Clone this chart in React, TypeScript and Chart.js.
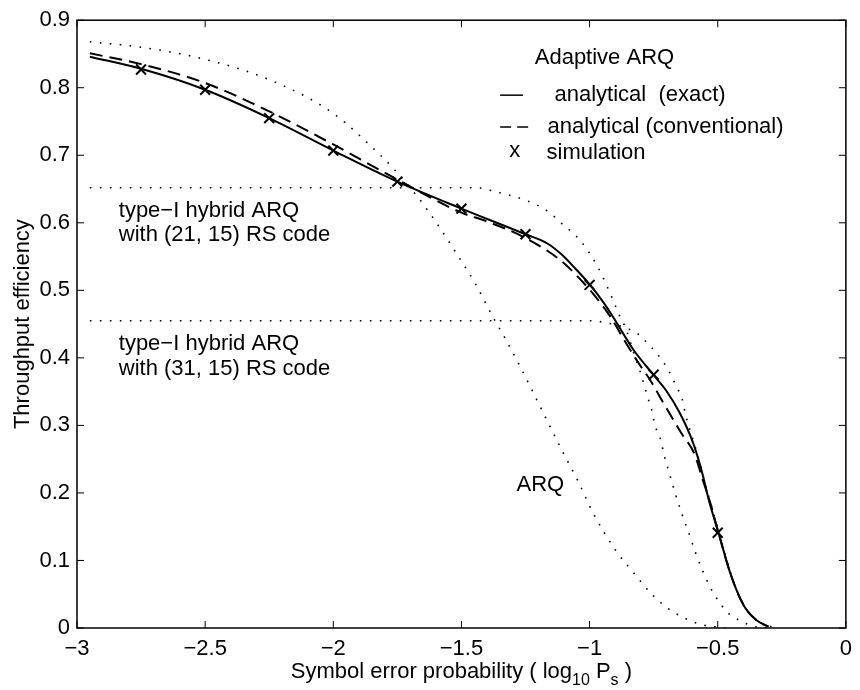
import React, { useEffect, useRef } from 'react';
import { Chart, registerables } from 'chart.js';

Chart.register(...registerables);

const FONT = '"Liberation Sans", Arial, Helvetica, sans-serif';

// axis ticks
const xTicks = [-3, -2.5, -2, -1.5, -1, -0.5, 0];
const yTicks = [0, 0.1, 0.2, 0.3, 0.4, 0.5, 0.6, 0.7, 0.8, 0.9];

// Adaptive ARQ, analytical (exact) - solid
const exactX = [-2.95, -2.75, -2.5, -2.25, -2.0, -1.75, -1.5, -1.25, -1.163, -1.112, -1.06, -0.998, -0.944, -0.906, -0.829, -0.749, -0.70, -0.649, -0.597, -0.565, -0.533, -0.497, -0.45, -0.398, -0.347, -0.302];
const exactY = [0.846, 0.828, 0.797, 0.755, 0.707, 0.661, 0.621, 0.583, 0.569, 0.554, 0.534, 0.508, 0.481, 0.459, 0.412, 0.374, 0.351, 0.319, 0.275, 0.236, 0.187, 0.141, 0.080, 0.033, 0.011, 0.002];

// Adaptive ARQ, analytical (conventional) - dashed
const convX = [-2.95, -2.75, -2.5, -2.25, -2.0, -1.75, -1.5, -1.407, -1.253, -1.112, -1.009, -0.963, -0.919, -0.861, -0.81, -0.765, -0.713, -0.643, -0.591, -0.559, -0.528, -0.5, -0.45, -0.398, -0.347, -0.302];
const convY = [0.851, 0.835, 0.807, 0.765, 0.716, 0.664, 0.615, 0.603, 0.578, 0.544, 0.505, 0.484, 0.461, 0.424, 0.393, 0.368, 0.334, 0.289, 0.258, 0.220, 0.184, 0.145, 0.080, 0.033, 0.011, 0.002];

// simulation points
const simX = [-2.75, -2.5, -2.25, -2.0, -1.75, -1.5, -1.25, -1.0, -0.75, -0.5];
const simY = [0.827, 0.797, 0.755, 0.707, 0.661, 0.621, 0.583, 0.508, 0.375, 0.141];

// plain ARQ - dotted
const arqX = [-2.95, -2.75, -2.5, -2.25, -2.0, -1.819, -1.767, -1.664, -1.594, -1.51, -1.446, -1.375, -1.337, -1.279, -1.176, -1.105, -1.047, -0.983, -0.9, -0.829, -0.752, -0.694, -0.626, -0.552, -0.47];
const arqY = [0.868, 0.860, 0.842, 0.812, 0.762, 0.701, 0.681, 0.635, 0.598, 0.549, 0.510, 0.459, 0.434, 0.393, 0.315, 0.261, 0.219, 0.168, 0.116, 0.082, 0.048, 0.029, 0.014, 0.004, 0.0];

// type-I hybrid ARQ with (21, 15) RS code - dotted
const rs21X = [-2.95, -1.45, -1.356, -1.24, -1.163, -1.112, -1.035, -0.97, -0.919, -0.887, -0.855, -0.83, -0.803, -0.784, -0.771, -0.758, -0.745, -0.726, -0.707, -0.685, -0.664, -0.639, -0.613, -0.587, -0.559, -0.526, -0.484, -0.456, -0.428, -0.392, -0.356, -0.31];
const rs21Y = [0.652, 0.652, 0.645, 0.632, 0.617, 0.600, 0.573, 0.536, 0.495, 0.466, 0.440, 0.410, 0.380, 0.356, 0.339, 0.324, 0.300, 0.283, 0.253, 0.224, 0.197, 0.168, 0.141, 0.112, 0.085, 0.058, 0.033, 0.021, 0.014, 0.007, 0.002, 0.0];

// type-I hybrid ARQ with (31, 15) RS code - dotted
const rs31X = [-2.95, -1.0, -0.95, -0.9, -0.85, -0.816, -0.78, -0.739, -0.694, -0.662, -0.639, -0.623, -0.604, -0.58, -0.55, -0.52, -0.49, -0.45, -0.4, -0.35, -0.3, -0.27];
const rs31Y = [0.455, 0.455, 0.453, 0.449, 0.443, 0.437, 0.424, 0.407, 0.383, 0.358, 0.339, 0.312, 0.288, 0.258, 0.215, 0.175, 0.135, 0.082, 0.035, 0.012, 0.003, 0.0];

const pts = (xs: number[], ys: number[]) => xs.map((x, i) => ({ x, y: ys[i] }));

const fmt = (v: number) => {
  const r = Math.round(v * 10) / 10;
  return r < 0 ? '\u2212' + String(-r) : String(r);
};

const decor = {
  id: 'decor',
  afterDraw(chart: any) {
    const { ctx, chartArea: a, scales } = chart;
    const xs = scales.x;
    const ys = scales.y;
    const X = (v: number) => xs.getPixelForValue(v);
    const Y = (v: number) => ys.getPixelForValue(v);
    ctx.save();
    ctx.strokeStyle = '#000';
    ctx.fillStyle = '#000';
    // box
    ctx.lineWidth = 1.5;
    ctx.strokeRect(a.left, a.top, a.right - a.left, a.bottom - a.top);
    // inward ticks
    ctx.lineWidth = 1;
    const L = 7;
    const seg = (x1: number, y1: number, x2: number, y2: number) => {
      ctx.beginPath();
      ctx.moveTo(x1, y1);
      ctx.lineTo(x2, y2);
      ctx.stroke();
    };
    xTicks.forEach((v) => {
      const p = X(v);
      seg(p, a.bottom, p, a.bottom - L);
      seg(p, a.top, p, a.top + L);
    });
    yTicks.forEach((v) => {
      const p = Y(v);
      seg(a.left, p, a.left + L, p);
      seg(a.right, p, a.right - L, p);
    });

    // legend block
    ctx.font = `22px ${FONT}`;
    ctx.textBaseline = 'middle';
    ctx.textAlign = 'left';
    ctx.fillText('Adaptive ARQ', X(-1.214), Y(0.844));
    ctx.lineWidth = 1.5;
    seg(X(-1.349), Y(0.789), X(-1.26), Y(0.789));
    ctx.fillText('analytical  (exact)', X(-1.137), Y(0.789));
    ctx.setLineDash([11, 6]);
    seg(X(-1.349), Y(0.742), X(-1.235), Y(0.742));
    ctx.setLineDash([]);
    ctx.fillText('analytical (conventional)', X(-1.164), Y(0.742));
    ctx.textAlign = 'center';
    ctx.fillText('x', X(-1.292), Y(0.706));
    ctx.textAlign = 'left';
    ctx.fillText('simulation', X(-1.168), Y(0.703));

    // curve annotations
    ctx.fillText('type\u2212I hybrid ARQ', X(-2.837), Y(0.618));
    ctx.fillText('with (21, 15) RS code', X(-2.837), Y(0.582));
    ctx.fillText('type\u2212I hybrid ARQ', X(-2.837), Y(0.42));
    ctx.fillText('with (31, 15) RS code', X(-2.837), Y(0.383));
    ctx.textAlign = 'center';
    ctx.fillText('ARQ', X(-1.192), Y(0.212));

    // x axis title with subscripts
    const parts: [string, boolean][] = [
      ['Symbol error probability ( log', false],
      ['10', true],
      [' P', false],
      ['s', true],
      [' )', false],
    ];
    const big = `22px ${FONT}`;
    const small = `16px ${FONT}`;
    let total = 0;
    parts.forEach(([t, sub]) => {
      ctx.font = sub ? small : big;
      total += ctx.measureText(t).width;
    });
    let cx = (a.left + a.right) / 2 - total / 2;
    const cy = 672;
    ctx.textAlign = 'left';
    parts.forEach(([t, sub]) => {
      ctx.font = sub ? small : big;
      ctx.fillText(t, cx, sub ? cy + 9 : cy);
      cx += ctx.measureText(t).width;
    });
    ctx.restore();
  },
};

export default function App() {
  const ref = useRef<HTMLCanvasElement | null>(null);
  useEffect(() => {
    document.body.style.margin = '0';
    const canvas = ref.current;
    if (!canvas) return;
    const dotted = { borderColor: '#000', borderWidth: 1.6, borderDash: [1.6, 8.4], pointRadius: 0, showLine: true, fill: false, cubicInterpolationMode: 'monotone' as const };
    const chart = new Chart(canvas, {
      type: 'scatter',
      data: {
        datasets: [
          { label: 'ARQ', data: pts(arqX, arqY), ...dotted },
          { label: 'type-I (21,15)', data: pts(rs21X, rs21Y), ...dotted },
          { label: 'type-I (31,15)', data: pts(rs31X, rs31Y), ...dotted },
          { label: 'analytical (conventional)', data: pts(convX, convY), borderColor: '#000', borderWidth: 2, borderDash: [13, 7], pointRadius: 0, showLine: true, fill: false, cubicInterpolationMode: 'monotone' },
          { label: 'analytical (exact)', data: pts(exactX, exactY), borderColor: '#000', borderWidth: 2, pointRadius: 0, showLine: true, fill: false, cubicInterpolationMode: 'monotone' },
          { label: 'simulation', data: pts(simX, simY), showLine: false, pointStyle: 'crossRot', pointRadius: 7, borderColor: '#000', backgroundColor: '#000', pointBorderWidth: 2, borderWidth: 2 },
        ] as any,
      },
      options: {
        animation: false,
        responsive: false,
        devicePixelRatio: 1,
        layout: { padding: { top: 14, right: 5, left: 0, bottom: 0 } },
        plugins: { legend: { display: false }, tooltip: { enabled: false } },
        scales: {
          x: {
            type: 'linear',
            min: -3,
            max: 0,
            afterBuildTicks: (s: any) => { s.ticks = xTicks.map((v) => ({ value: v })); },
            afterFit: (s: any) => { s.height = 62; },
            grid: { display: false, drawTicks: false },
            border: { display: false },
            ticks: { color: '#000', font: { family: FONT, size: 22 }, padding: 8, maxRotation: 0, autoSkip: false, callback: (v: any) => fmt(Number(v)) },
          },
          y: {
            type: 'linear',
            min: 0,
            max: 0.9,
            afterBuildTicks: (s: any) => { s.ticks = yTicks.map((v) => ({ value: v })); },
            afterFit: (s: any) => { s.width = 77; },
            grid: { display: false, drawTicks: false },
            border: { display: false },
            ticks: { color: '#000', font: { family: FONT, size: 22 }, padding: 7, autoSkip: false, callback: (v: any) => fmt(Number(v)) },
            title: { display: true, text: 'Throughput efficiency', color: '#000', font: { family: FONT, size: 22 }, padding: { top: 10, bottom: 0 } },
          },
        },
      } as any,
      plugins: [decor],
    });
    return () => chart.destroy();
  }, []);
  return <canvas ref={ref} width={860} height={690} style={{ display: 'block', width: 860, height: 690 }} />;
}
